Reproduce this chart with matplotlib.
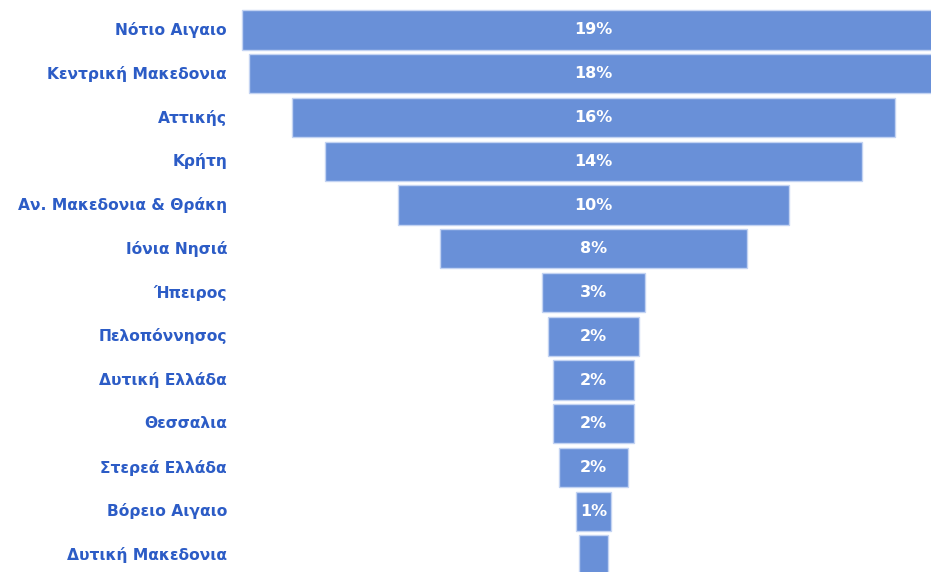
import matplotlib.pyplot as plt
import matplotlib.transforms as mtransforms

# Regions (top to bottom) and their share in %
regions = ["Νότιο Αιγαιο", "Κεντρική Μακεδονια", "Αττικής", "Κρήτη",
           "Αν. Μακεδονια & Θράκη", "Ιόνια Νησιά", "Ήπειρος", "Πελοπόννησος",
           "Δυτική Ελλάδα", "Θεσσαλια", "Στερεά Ελλάδα", "Βόρειο Αιγαιο",
           "Δυτική Μακεδονια"]
shares = [18.7, 18.36, 16.05, 14.3, 10.4, 8.2, 2.75, 2.4, 2.17, 2.17, 1.82, 0.92, 0.79]
labels = ["19%", "18%", "16%", "14%", "10%", "8%", "3%", "2%", "2%", "2%", "2%", "1%", ""]

bar_color = "#6990d8"
text_blue = "#2c5cc6"

fig = plt.figure(figsize=(9.31, 5.72), dpi=100)
ax = fig.add_axes([0, 0, 1, 1])

ypos = list(range(len(regions)))
lefts = [-s / 2 for s in shares]
ax.barh(ypos, shares, left=lefts, height=0.9, color=bar_color,
        edgecolor="#c3d3f2", linewidth=1.0)

for y, lab in zip(ypos, labels):
    ax.text(0, y, lab, ha="center", va="center", color="white",
            fontsize=11.5, fontweight="bold", family="DejaVu Sans")

trans = mtransforms.blended_transform_factory(fig.transFigure, ax.transData)
for y, name in zip(ypos, regions):
    ax.text(227 / 931, y, name, transform=trans, ha="right", va="center",
            color=text_blue, fontsize=11.2, fontweight="bold", family="DejaVu Sans")

# map data to pixels: funnel centre at x=593.5 px, 37.56 px per %
scale = 37.56
ax.set_xlim(-593.5 / scale, (931 - 593.5) / scale)
ax.set_ylim((572 - 30) / 43.75, -30 / 43.75)
ax.axis("off")

fig.savefig("out.png", dpi=100, facecolor="white")
